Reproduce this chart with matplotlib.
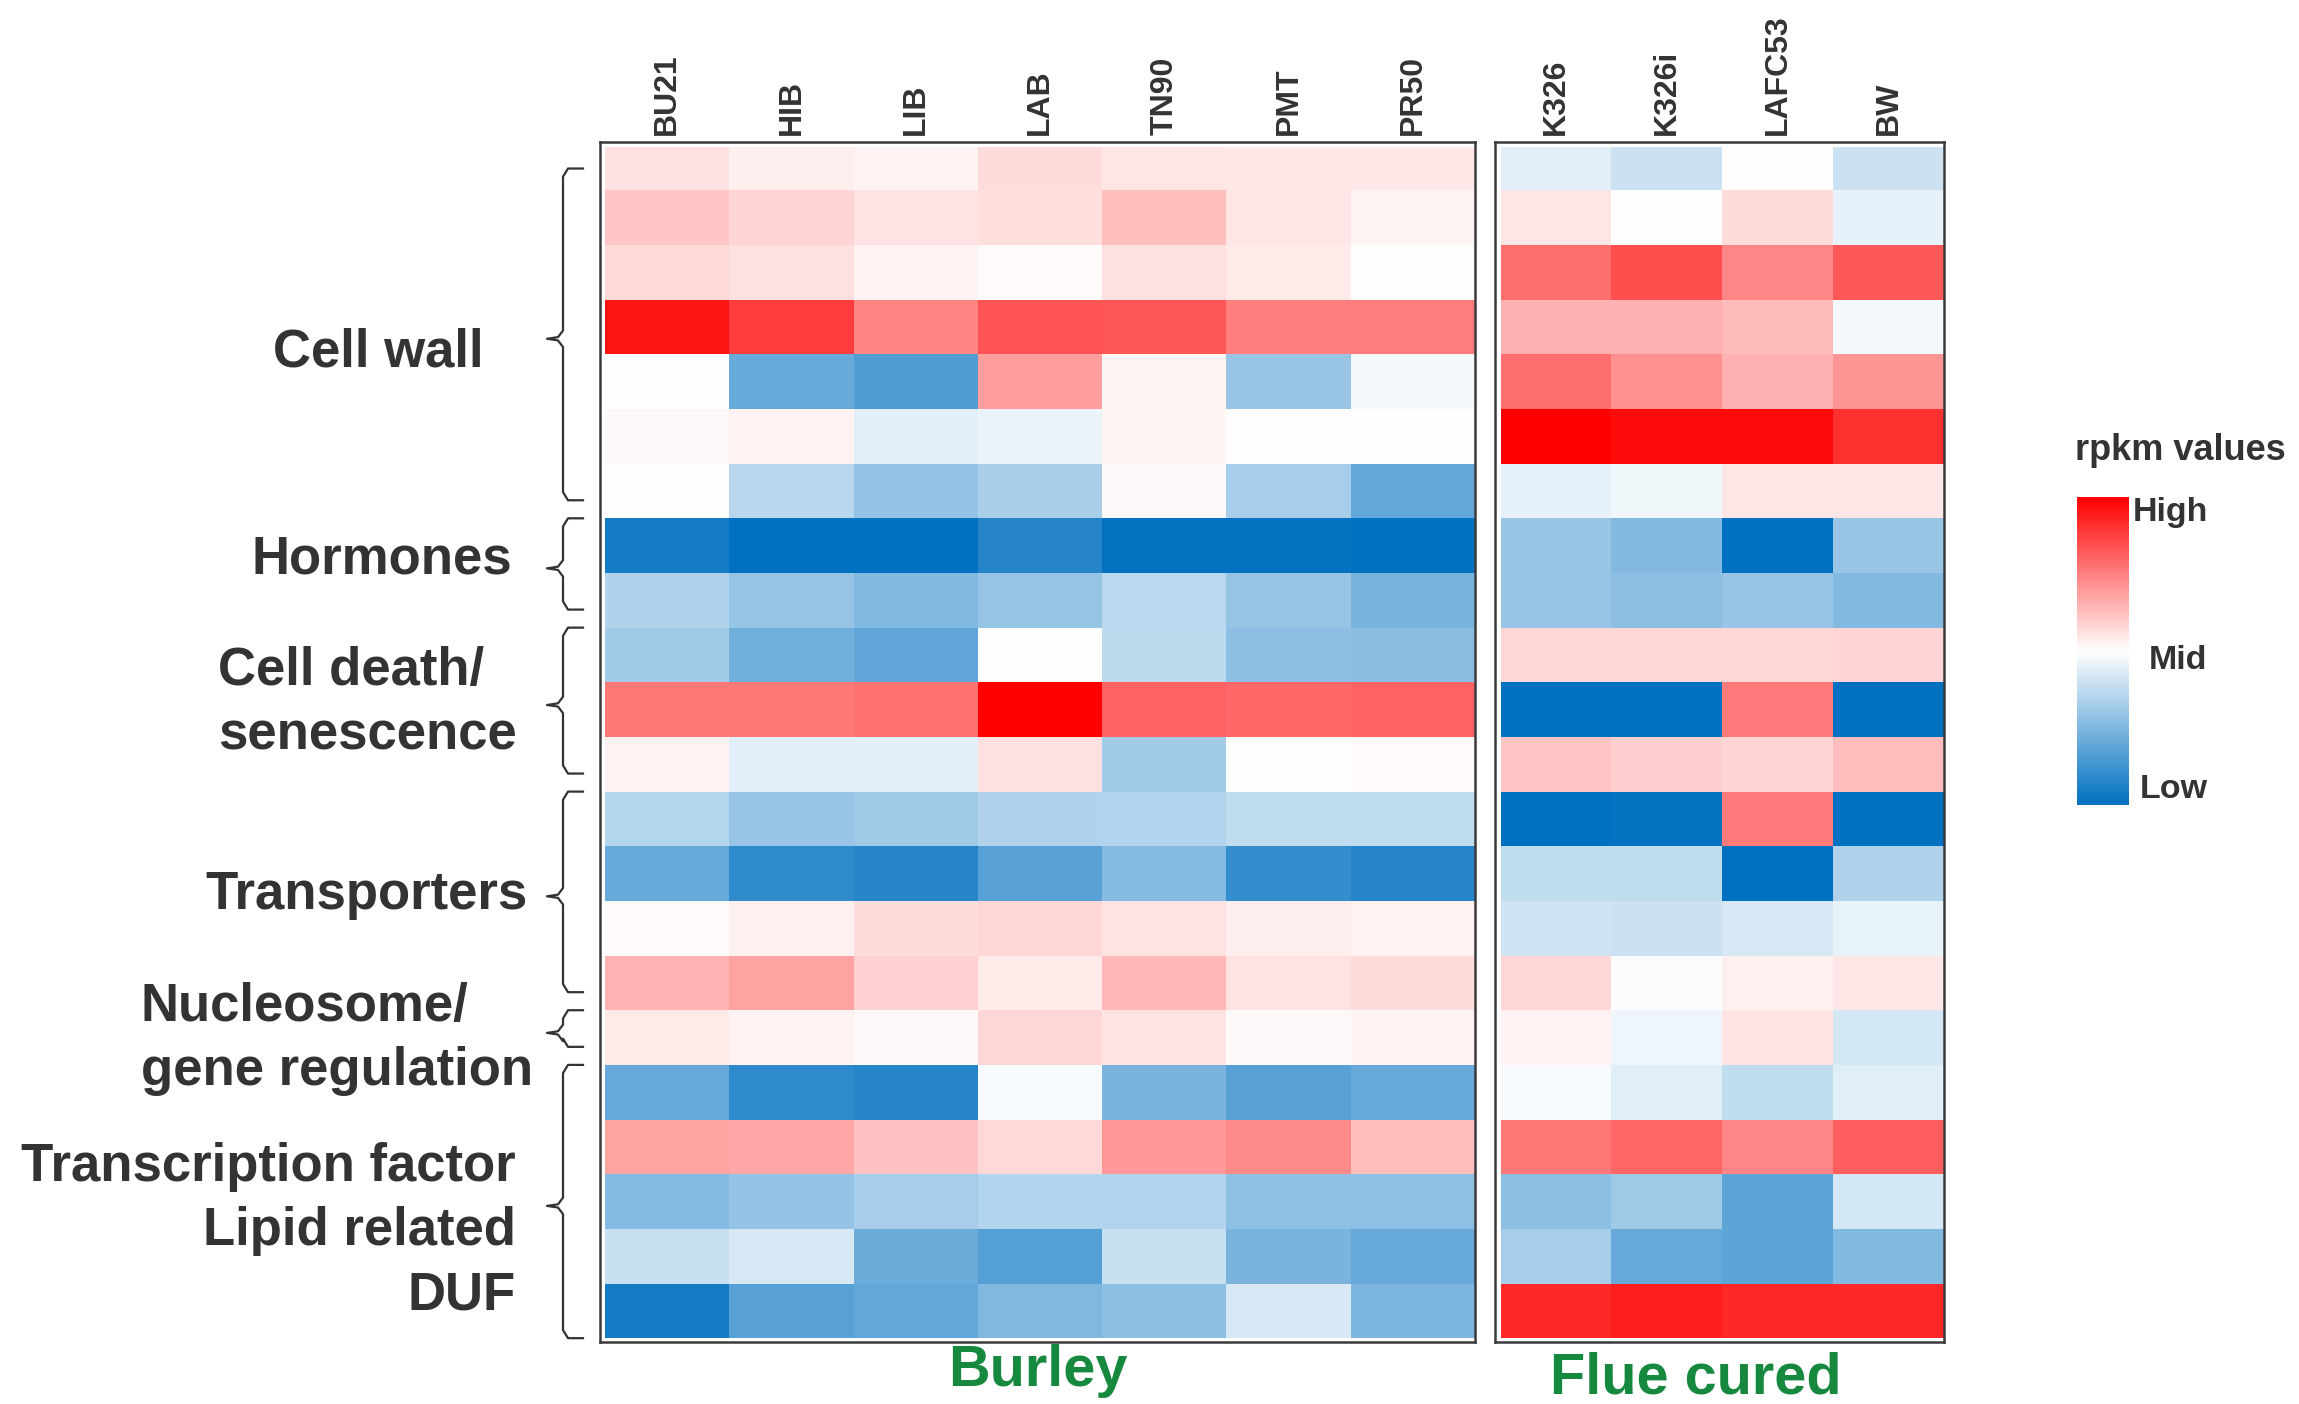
import numpy as np
import matplotlib.pyplot as plt
from matplotlib import font_manager
from matplotlib.colors import LinearSegmentedColormap


def pick_font(name, fallback):
    try:
        font_manager.findfont(font_manager.FontProperties(family=name, weight='bold'),
                              fallback_to_default=False)
        return name
    except ValueError:
        return fallback


plt.rcParams['font.family'] = ['Liberation Sans', 'DejaVu Sans']
narrow = pick_font('Liberation Sans Narrow', 'Liberation Sans')

# ---- data (blue = low, white = mid, red = high; scaled -1..1) ----
burley_cols = ['BU21', 'HIB', 'LIB', 'LAB', 'TN90', 'PMT', 'PR50']
flue_cols = ['K326', 'K326i', 'LAFC53', 'BW']

burley = np.array([
    [0.12, 0.07, 0.05, 0.14, 0.10, 0.09, 0.09],
    [0.23, 0.17, 0.11, 0.13, 0.25, 0.10, 0.04],
    [0.15, 0.12, 0.05, 0.02, 0.12, 0.08, 0.01],
    [0.92, 0.76, 0.48, 0.67, 0.66, 0.50, 0.51],
    [0.00, -0.59, -0.68, 0.39, 0.04, -0.40, -0.04],
    [0.03, 0.05, -0.11, -0.08, 0.04, 0.01, 0.00],
    [0.00, -0.28, -0.42, -0.34, 0.03, -0.35, -0.61],
    [-0.92, -1.00, -1.00, -0.85, -0.98, -0.98, -1.00],
    [-0.31, -0.41, -0.49, -0.41, -0.27, -0.41, -0.53],
    [-0.36, -0.56, -0.62, 0.00, -0.26, -0.45, -0.46],
    [0.53, 0.53, 0.55, 1.00, 0.61, 0.59, 0.61],
    [0.05, -0.11, -0.11, 0.12, -0.36, 0.00, 0.02],
    [-0.29, -0.40, -0.38, -0.31, -0.30, -0.25, -0.25],
    [-0.59, -0.82, -0.85, -0.65, -0.47, -0.79, -0.85],
    [0.02, 0.06, 0.14, 0.16, 0.11, 0.07, 0.05],
    [0.30, 0.36, 0.18, 0.08, 0.28, 0.11, 0.14],
    [0.08, 0.05, 0.03, 0.16, 0.11, 0.03, 0.05],
    [-0.60, -0.82, -0.85, -0.03, -0.52, -0.65, -0.60],
    [0.36, 0.35, 0.24, 0.15, 0.40, 0.46, 0.25],
    [-0.47, -0.42, -0.35, -0.30, -0.30, -0.44, -0.44],
    [-0.22, -0.15, -0.58, -0.67, -0.22, -0.52, -0.60],
    [-0.92, -0.65, -0.61, -0.50, -0.45, -0.15, -0.51],
])

flue = np.array([
    [-0.12, -0.20, 0.01, -0.20],
    [0.10, 0.00, 0.14, -0.10],
    [0.57, 0.69, 0.47, 0.65],
    [0.31, 0.31, 0.27, -0.05],
    [0.57, 0.43, 0.31, 0.42],
    [1.00, 0.96, 0.96, 0.81],
    [-0.10, -0.06, 0.10, 0.10],
    [-0.40, -0.48, -1.00, -0.40],
    [-0.40, -0.45, -0.40, -0.49],
    [0.16, 0.16, 0.16, 0.17],
    [-1.00, -1.00, 0.52, -1.00],
    [0.23, 0.19, 0.17, 0.26],
    [-1.00, -0.98, 0.52, -1.00],
    [-0.25, -0.25, -1.00, -0.31],
    [-0.19, -0.20, -0.16, -0.09],
    [0.16, -0.02, 0.06, 0.10],
    [0.05, -0.07, 0.11, -0.17],
    [-0.03, -0.12, -0.25, -0.12],
    [0.53, 0.60, 0.47, 0.63],
    [-0.45, -0.38, -0.63, -0.17],
    [-0.35, -0.60, -0.63, -0.49],
    [0.84, 0.88, 0.84, 0.84],
])

# gene groups: (first row, last row + 1)
group_start = [0, 7, 9, 12, 16, 17]
group_end = [7, 9, 12, 16, 17, 22]

cmap = LinearSegmentedColormap.from_list('rpkm', ['#0070C0', '#FFFFFF', '#FF0000'])
dark = '#333333'
green = '#16893f'
n_rows = burley.shape[0]
# the first row is partly cut off at the top in the original figure
row_edges = np.concatenate([[0.2], np.arange(1, n_rows + 1)])
y_lim = (n_rows + 0.07, 0.115)

W, H = 2299, 1404
fig = plt.figure(figsize=(W / 100, H / 100), dpi=100)


def box(x0, y0, x1, y1):
    return [x0 / W, 1 - y1 / H, (x1 - x0) / W, (y1 - y0) / H]


ax_b = fig.add_axes(box(600, 142, 1475, 1342))
ax_f = fig.add_axes(box(1495, 142, 1944, 1342))
ax_lab = fig.add_axes(box(0, 142, 600, 1342))
cax = fig.add_axes(box(2077, 497, 2129, 805))

for ax, vals, names, gap in [(ax_b, burley, burley_cols, 0.04),
                             (ax_f, flue, flue_cols, 0.05)]:
    x_edges = np.arange(vals.shape[1] + 1)
    mesh = ax.pcolormesh(x_edges, row_edges, vals, cmap=cmap, vmin=-1, vmax=1)
    ax.set_xlim(-gap, vals.shape[1])
    ax.set_ylim(*y_lim)
    ax.xaxis.tick_top()
    ax.set_xticks(np.arange(vals.shape[1]) + 0.5)
    ax.set_xticklabels(names, rotation=90, fontsize=23, fontweight='bold',
                       color=dark, family=[narrow, 'DejaVu Sans'])
    ax.tick_params(length=0, pad=5)
    ax.set_yticks([])
    for sp in ax.spines.values():
        sp.set_color('#3a3a3a')
        sp.set_linewidth(1.8)

# ---- group labels and braces ----
ax_lab.set_xlim(0, 600)
ax_lab.set_ylim(*y_lim)
ax_lab.axis('off')

lab_kw = dict(fontsize=38, fontweight='bold', color=dark, va='center', linespacing=1.36)
ax_lab.text(484, 3.96, 'Cell wall', ha='right', **lab_kw)
ax_lab.text(512, 7.76, 'Hormones', ha='right', **lab_kw)
ax_lab.text(218, 10.38, 'Cell death/\nsenescence', ha='left', multialignment='left', **lab_kw)
ax_lab.text(528, 13.9, 'Transporters', ha='right', **lab_kw)
ax_lab.text(141, 16.53, 'Nucleosome/\ngene regulation', ha='left', multialignment='left', **lab_kw)
ax_lab.text(516, 20.04, 'Transcription factor\nLipid related\nDUF', ha='right',
            multialignment='right', **lab_kw)

xv, xh, xt = 563, 583, 547
for s, e in zip(group_start, group_end):
    top = max(s, 0.6)
    bot = n_rows if e == n_rows else e - 0.33
    tip = (top + bot) / 2 + 0.08
    c = min(0.15, (bot - top) / 4)
    xs = [xh, xv + 5, xv, xv, xv - 5, xt, xv - 5, xv, xv, xv + 5, xh]
    ys = [top, top, top + c, tip - c, tip - 0.03, tip, tip + 0.03, tip + c, bot - c, bot, bot]
    ax_lab.plot(xs, ys, color=dark, lw=1.6, solid_joinstyle='round')

# ---- colour key ----
cb = fig.colorbar(mesh, cax=cax)
cb.outline.set_visible(False)
cb.set_ticks([])
key_kw = dict(fontsize=24.5, fontweight='bold', color=dark, transform=cax.transAxes, ha='left')
cax.text(1.08, 1.0, 'High', va='top', **key_kw)
cax.text(1.38, 0.47, 'Mid', va='center', **key_kw)
cax.text(1.21, 0.0, 'Low', va='bottom', **key_kw)
fig.text(2180 / W, 1 - 450 / H, 'rpkm values', fontsize=26, fontweight='bold',
         color=dark, ha='center', va='center')

fig.text(1038 / W, 1 - 1371 / H, 'Burley', fontsize=41.5, fontweight='bold',
         color=green, ha='center', va='center')
fig.text(1696 / W, 1 - 1378 / H, 'Flue cured', fontsize=41.5, fontweight='bold',
         color=green, ha='center', va='center')

fig.savefig('out.png', dpi=100, facecolor='white')
